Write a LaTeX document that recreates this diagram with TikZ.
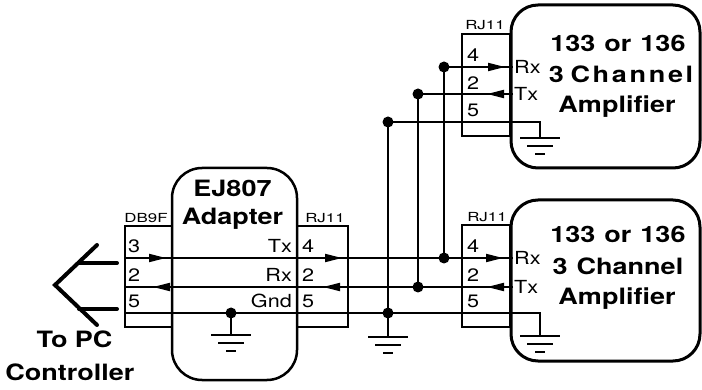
\documentclass[tikz,border=0pt]{standalone}
\usepackage{fontspec}
\setmainfont{TeX Gyre Heros}[FakeStretch=1.2]
\newfontfamily\tagfont{TeX Gyre Heros}[FakeStretch=1.35]
\usetikzlibrary{arrows.meta, decorations.markings}

\tikzset{
  wire/.style={line width=2pt},
  pinbox/.style={draw, line width=2pt, inner sep=0pt},
  ampbox/.style={draw, line width=3pt, rounded corners=27pt, inner sep=0pt},
  junction/.style={circle, fill, inner sep=0pt, minimum size=11pt},
  plug/.style={line width=4pt, line cap=round},
  title/.style={font=\bfseries\fontsize{22.5}{24}\selectfont, anchor=base, inner sep=0pt},
  spaced/.style={font=\bfseries\fontsize{22.5}{24}\selectfont\addfontfeature{LetterSpace=12}},
  pin/.style={font=\fontsize{18}{20}\selectfont, anchor=base west, inner sep=0pt},
  sig/.style={font=\fontsize{18}{20}\selectfont, inner sep=1pt},
  tag/.style={font=\tagfont\fontsize{12.5}{14}\selectfont, inner sep=0pt},
  wiretip/.tip={Triangle[length=17pt, width=8pt]},
  arrowat/.style={postaction={decorate, decoration={markings, mark=at position #1 with {\arrow{wiretip}}}}},
  earth/.pic={\draw[line width=2pt] (-20,0) -- (20,0) (-13,8) -- (13,8) (-5,16) -- (5,16);}
}

\begin{document}
\begin{tikzpicture}[x=1pt, y=-1pt]
\useasboundingbox (0,0) rectangle (702,390);
\draw
    (234.5,274)  node[ampbox, line width=2.5pt, rounded corners=30pt, minimum width=125pt, minimum height=212pt] (adapter) {}
    (148.5,276.5)  node[pinbox, minimum width=47pt, minimum height=101pt] (db9) {}
    (322.5,276.5)  node[pinbox, minimum width=51pt, minimum height=101pt] (rjA) {}
    (605.5,86.5)  node[ampbox, minimum width=189pt, minimum height=163pt] (ampTop) {}
    (605.5,280.5)  node[ampbox, minimum width=189pt, minimum height=161pt] (ampBot) {}
    (486,85)  node[pinbox, minimum width=48pt, minimum height=102pt] (rjTop) {}
    (486,276)  node[pinbox, minimum width=48pt, minimum height=102pt] (rjBot) {}
    (232.5,197)  node[title] (ejName) {EJ807}
    (232.5,225)  node[title] (ejKind) {Adapter}
    (74.5,347)  node[title] (pcA) {To PC}
    (70,380)  node[title] (pcB) {Controller}
    (618,52)  node[title] (topA) {133\hspace{.4em}or\hspace{.4em}136}
    (621,83)  node[title, spaced] (topB) {3\hspace{.3em}Channel}
    (617,113)  node[title] (topC) {Amplifier}
    (618,243)  node[title] (botA) {133\hspace{.4em}or\hspace{.4em}136}
    (618,275)  node[title] (botB) {3\hspace{.4em}Channel}
    (617,305)  node[title] (botC) {Amplifier}
    (146,218)  node[tag] (dbTag) {DB9F}
    (325,218)  node[tag] (rjATag) {RJ11}
    (485,25)  node[tag] (rjTopTag) {RJ11}
    (487,217)  node[tag] (rjBotTag) {RJ11}
    (128,253)  node[pin] (dbP3) {3}
    (128,282)  node[pin] (dbP2) {2}
    (128,308)  node[pin] (dbP5) {5}
    (302,253)  node[pin] (rjAP4) {4}
    (302,282)  node[pin] (rjAP2) {2}
    (302,308)  node[pin] (rjAP5) {5}
    (467,62)  node[pin] (rjTopP4) {4}
    (467,90)  node[pin] (rjTopP2) {2}
    (467,117)  node[pin] (rjTopP5) {5}
    (467,253)  node[pin] (rjBotP4) {4}
    (467,282)  node[pin] (rjBotP2) {2}
    (467,308)  node[pin] (rjBotP5) {5}
    (292,253)  node[pin, anchor=base east] (ejTx) {Tx}
    (292,282)  node[pin, anchor=base east] (ejRx) {Rx}
    (292,308)  node[pin, anchor=base east] (ejGnd) {Gnd};
\coordinate (db3) at (125,258);
\coordinate (db2) at (125,287);
\coordinate (db5) at (125,313);
\coordinate (b4) at (513,258);
\coordinate (b2) at (513,287);
\coordinate (b5) at (540,313);
\coordinate (bg) at (540,336);
\coordinate (t4) at (444,67);
\coordinate (t2) at (418,94);
\coordinate (t5) at (388,122);
\coordinate (tr4) at (513,67);
\coordinate (tr2) at (513,94);
\coordinate (tc5) at (540,122);
\coordinate (tg) at (540,138);
\coordinate (j4) at (444,258);
\coordinate (j2) at (418,287);
\coordinate (j5) at (388,313);
\coordinate (mg) at (388,337);
\coordinate (jg) at (231,313);
\coordinate (ag) at (231,335);
\coordinate (plugTip) at (55,285);
\coordinate (plugUp) at (97,245);
\coordinate (plugDn) at (97,325);
\coordinate (barUpA) at (79,263);
\coordinate (barUpB) at (117,263);
\coordinate (barDnA) at (79,309);
\coordinate (barDnB) at (117,309);
\node[sig, anchor=west] (topRx) at (tr4) {Rx};
\node[sig, anchor=west] (topTx) at (tr2) {Tx};
\node[sig, anchor=west] (botRx) at (b4) {Rx};
\node[sig, anchor=west] (botTx) at (b2) {Tx};
\draw[wire, arrowat=41pt, arrowat=217pt, arrowat=378pt] (db3) -- (b4);
\draw[wire, arrowat=26pt, arrowat=190pt, arrowat=360pt] (b2) -- (db2);
\draw[wire] (db5) -- (b5) -- (bg);
\draw[wire, arrowat=61pt] (t4) -- (tr4);
\draw[wire, arrowat=26pt] (tr2) -- (t2);
\draw[wire] (t5) -- (tc5) -- (tg);
\draw[wire] (t4) -- (j4);
\draw[wire] (t2) -- (j2);
\draw[wire] (t5) -- (j5) -- (mg);
\draw[wire] (jg) -- (ag);
\draw[plug] (plugUp) -- (plugTip) -- (plugDn);
\draw[plug] (barUpA) -- (barUpB);
\draw[plug] (barDnA) -- (barDnB);
\node[junction] (dotT4) at (t4) {};
\node[junction] (dotT2) at (t2) {};
\node[junction] (dotT5) at (t5) {};
\node[junction] (dotJ4) at (j4) {};
\node[junction] (dotJ2) at (j2) {};
\node[junction] (dotJ5) at (j5) {};
\node[junction] (dotG) at (jg) {};
\pic at (ag) {earth};
\pic at (mg) {earth};
\pic at (bg) {earth};
\pic at (tg) {earth};
\end{tikzpicture}
\end{document}
